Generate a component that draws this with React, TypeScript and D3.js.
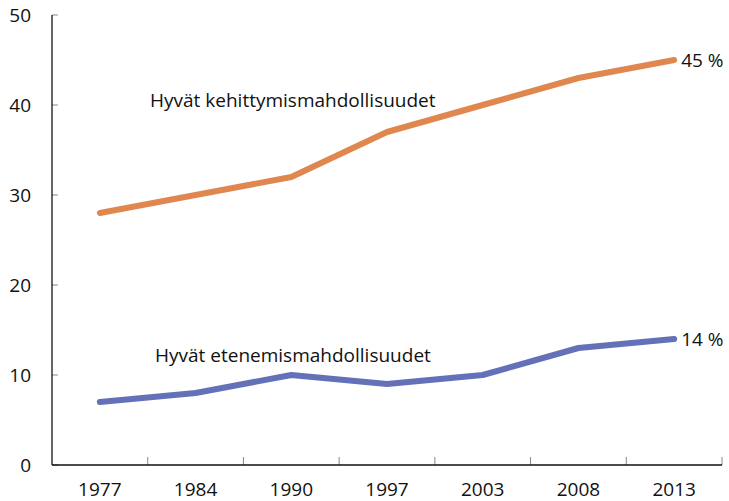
import React from "react";
import * as d3 from "d3";

const years = ["1977", "1984", "1990", "1997", "2003", "2008", "2013"];
const kehittymis = [28, 30, 32, 37, 40, 43, 45];
const etenemis = [7, 8, 10, 9, 10, 13, 14];
const yTicks = [0, 10, 20, 30, 40, 50];
const seriesNames = ["Hyvät kehittymismahdollisuudet", "Hyvät etenemismahdollisuudet"];
const endLabels = ["45 %", "14 %"];

const W = 729;
const H = 501;
const left = 52;
const right = 722;
const top = 15;
const bottom = 465;
const font = "'Open Sans', sans-serif";
const fs = 19;

export default function App() {
  const x = d3.scaleBand<string>().domain(years).range([left, right]);
  const y = d3.scaleLinear().domain([0, 50]).range([bottom, top]);
  const cx = (d: string) => (x(d) as number) + x.bandwidth() / 2;
  const line = d3
    .line<number>()
    .x((_, i) => cx(years[i]))
    .y((v) => y(v));
  const boundaries = years.map((d) => (x(d) as number) + x.bandwidth());
  const lastX = cx(years[years.length - 1]);

  return (
    <svg width={W} height={H} style={{ position: "absolute", left: 0, top: 0 }}>
      <rect width={W} height={H} fill="#fff" />
      {yTicks.map((t) => (
        <g key={t}>
          <line x1={left} x2={left + 6} y1={y(t)} y2={y(t)} stroke="#888" strokeWidth={1} />
          <text x={31} y={y(t)} dy="0.36em" textAnchor="end" fontFamily={font} fontSize={fs} fill="#111">
            {t}
          </text>
        </g>
      ))}
      {boundaries.map((b, i) => (
        <line key={i} x1={b} x2={b} y1={bottom} y2={bottom - 8} stroke="#888" strokeWidth={1} />
      ))}
      {years.map((d) => (
        <text key={d} x={cx(d)} y={496} textAnchor="middle" fontFamily={font} fontSize={fs} fill="#111">
          {d}
        </text>
      ))}
      <line x1={left} x2={left} y1={top} y2={bottom} stroke="#111" strokeWidth={1.3} />
      <line x1={left} x2={right} y1={bottom} y2={bottom} stroke="#111" strokeWidth={1.3} />
      <path d={line(kehittymis) || ""} fill="none" stroke="#E0874F" strokeWidth={6} strokeLinecap="round" strokeLinejoin="round" />
      <path d={line(etenemis) || ""} fill="none" stroke="#6470B7" strokeWidth={6} strokeLinecap="round" strokeLinejoin="round" />
      <text x={150} y={107} fontFamily={font} fontSize={fs} fill="#111">{seriesNames[0]}</text>
      <text x={155} y={362} fontFamily={font} fontSize={fs} fill="#111">{seriesNames[1]}</text>
      <text x={lastX + 7} y={y(kehittymis[6])} dy="0.36em" fontFamily={font} fontSize={fs} fill="#111">{endLabels[0]}</text>
      <text x={lastX + 7} y={y(etenemis[6])} dy="0.36em" fontFamily={font} fontSize={fs} fill="#111">{endLabels[1]}</text>
    </svg>
  );
}
